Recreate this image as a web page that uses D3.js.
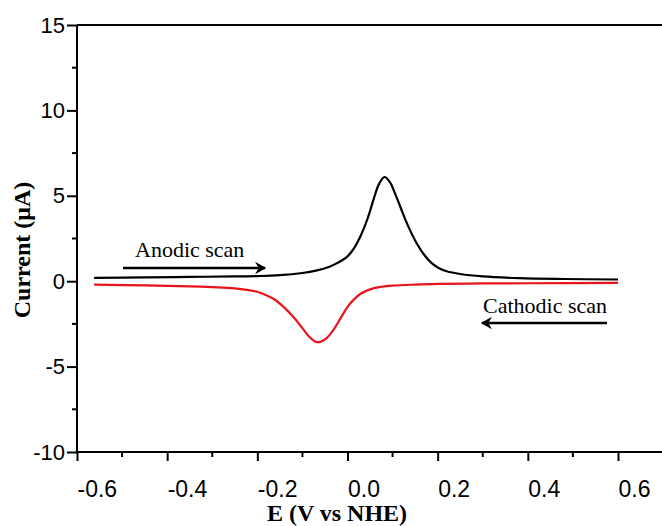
<!DOCTYPE html>
<html><head><meta charset="utf-8">
<script src="https://cdn.jsdelivr.net/npm/d3@7/dist/d3.min.js"></script>
<style>body{margin:0;background:#fff}svg{display:block}</style>
</head><body>
<svg id="c" width="662" height="526"></svg>
<script>
// Data (E in V vs NHE, current in µA)
const anodicE = [-0.562,-0.45,-0.35,-0.25,-0.2,-0.15,-0.1,-0.07,-0.04,-0.02,0.0,0.015,0.03,0.045,0.058,0.07,0.082,0.094,0.106,0.118,0.13,0.142,0.155,0.17,0.185,0.2,0.22,0.25,0.3,0.38,0.48,0.6];
const anodicI = [0.2,0.22,0.25,0.28,0.3,0.35,0.48,0.62,0.85,1.1,1.45,1.95,2.7,3.7,4.8,5.7,6.1,5.8,5.1,4.3,3.5,2.8,2.15,1.55,1.1,0.8,0.58,0.42,0.28,0.18,0.13,0.1];
const cathodicE = [-0.562,-0.45,-0.35,-0.3,-0.25,-0.22,-0.2,-0.18,-0.16,-0.14,-0.12,-0.1,-0.085,-0.07,-0.06,-0.045,-0.03,-0.015,0.0,0.015,0.03,0.05,0.07,0.1,0.15,0.204,0.3,0.4,0.6];
const cathodicI = [-0.2,-0.25,-0.3,-0.35,-0.42,-0.52,-0.62,-0.82,-1.1,-1.55,-2.1,-2.75,-3.25,-3.55,-3.55,-3.3,-2.8,-2.15,-1.5,-1.05,-0.72,-0.48,-0.35,-0.26,-0.2,-0.16,-0.13,-0.12,-0.1];
const xTicks = [-0.6,-0.4,-0.2,0.0,0.2,0.4,0.6];
const xMinor = [-0.5,-0.3,-0.1,0.1,0.3,0.5];
const yTicks = [-10,-5,0,5,10,15];
const yMinor = [-7.5,-2.5,2.5,7.5,12.5];

const svg = d3.select('#c');
const x = d3.scaleLinear().domain([-0.6,0.6]).range([77,618]);
const y = d3.scaleLinear().domain([-10,15]).range([452,25]);
const xRight = 700;
const loc = d3.formatLocale({decimal:'.',thousands:',',grouping:[3],currency:['',''],minus:'-'});

// frame
svg.append('line').attr('x1',x(-0.6)).attr('x2',xRight).attr('y1',y(15)).attr('y2',y(15)).attr('stroke','#000').attr('stroke-width',2);

// axes
const xAxis = d3.axisBottom(x).tickValues(xTicks).tickSize(9).tickFormat(loc.format('.1f'));
const gx = svg.append('g').attr('transform',`translate(0,${y(-10)})`).call(xAxis);
gx.select('.domain').attr('d',`M${x(-0.6)},0H${xRight}`).attr('stroke-width',2);
gx.selectAll('.tick line').attr('stroke-width',2);
gx.selectAll('.tick text').attr('font-family','Liberation Sans, Arial, sans-serif').attr('font-size',23).attr('fill','#000')
  .attr('text-anchor','start').attr('dy','1.45em').attr('x',0);
gx.selectAll('.minor').data(xMinor).enter().append('line').attr('x1',d=>x(d)).attr('x2',d=>x(d)).attr('y1',0).attr('y2',5).attr('stroke','#000').attr('stroke-width',2);

const yAxis = d3.axisLeft(y).tickValues(yTicks).tickSize(10).tickFormat(loc.format('d'));
const gy = svg.append('g').attr('transform',`translate(${x(-0.6)},0)`).call(yAxis);
gy.select('.domain').attr('d',`M0,${y(-10)}V${y(15)}`).attr('stroke-width',2);
gy.selectAll('.tick line').attr('stroke-width',2);
gy.selectAll('.tick text').attr('font-family','Liberation Sans, Arial, sans-serif').attr('font-size',22).attr('fill','#000').attr('x',-12);
gy.selectAll('.minor').data(yMinor).enter().append('line').attr('x1',0).attr('x2',-5).attr('y1',d=>y(d)).attr('y2',d=>y(d)).attr('stroke','#000').attr('stroke-width',2);

// curves
const line = d3.line().x(d=>x(d[0])).y(d=>y(d[1])).curve(d3.curveCatmullRom.alpha(0.5));
svg.append('path').datum(anodicE.map((e,i)=>[e,anodicI[i]])).attr('d',line).attr('fill','none').attr('stroke','#000').attr('stroke-width',2.2);
svg.append('path').datum(cathodicE.map((e,i)=>[e,cathodicI[i]])).attr('d',line).attr('fill','none').attr('stroke','#e8141b').attr('stroke-width',2.2);

// titles
svg.append('text').attr('x',337).attr('y',521).attr('text-anchor','middle').attr('font-family','Liberation Serif, Times New Roman, serif').attr('font-weight','bold').attr('font-size',24).text('E (V vs NHE)');
svg.append('text').attr('transform','translate(30,250) rotate(-90)').attr('text-anchor','middle').attr('font-family','Liberation Serif, Times New Roman, serif').attr('font-weight','bold').attr('font-size',24).text('Current (μA)');

// annotations
const defs = svg.append('defs');
defs.append('marker').attr('id','ah').attr('viewBox','0 0 10 10').attr('refX',8).attr('refY',5).attr('markerWidth',5).attr('markerHeight',5).attr('orient','auto-start-reverse')
  .append('path').attr('d','M0,0 L9,5 L0,10 L3,5 Z').attr('fill','#000');
svg.append('text').attr('x',135).attr('y',257).attr('font-family','Liberation Serif, Times New Roman, serif').attr('font-size',22).text('Anodic scan');
svg.append('line').attr('x1',123).attr('y1',268).attr('x2',265).attr('y2',268).attr('stroke','#000').attr('stroke-width',2.5).attr('marker-end','url(#ah)');
svg.append('text').attr('x',483).attr('y',313).attr('font-family','Liberation Serif, Times New Roman, serif').attr('font-size',22).text('Cathodic scan');
svg.append('line').attr('x1',607).attr('y1',323).attr('x2',482).attr('y2',323).attr('stroke','#000').attr('stroke-width',2.5).attr('marker-end','url(#ah)');
</script>
</body></html>
